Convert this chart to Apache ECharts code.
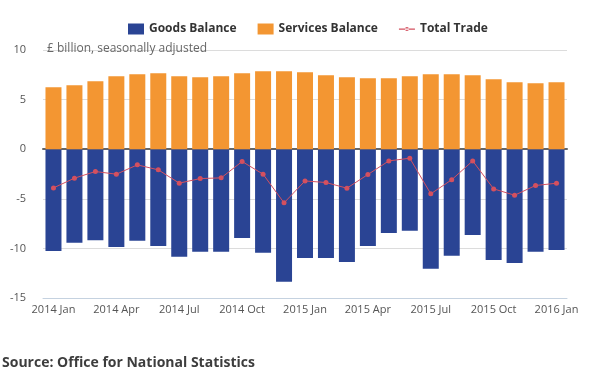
<!DOCTYPE html>
<html><head><meta charset="utf-8">
<script src="https://cdn.jsdelivr.net/npm/echarts@6/dist/echarts.min.js"></script>
<style>html,body{margin:0;padding:0;background:#fff}#c{width:616px;height:385px}</style>
</head><body><div id="c"></div>
<script>
const categories = ['2014 Jan','2014 Feb','2014 Mar','2014 Apr','2014 May','2014 Jun','2014 Jul','2014 Aug','2014 Sep','2014 Oct','2014 Nov','2014 Dec',
  '2015 Jan','2015 Feb','2015 Mar','2015 Apr','2015 May','2015 Jun','2015 Jul','2015 Aug','2015 Sep','2015 Oct','2015 Nov','2015 Dec','2016 Jan'];
const goodsBalance = [-10.25,-9.44,-9.17,-9.85,-9.24,-9.75,-10.85,-10.35,-10.35,-8.94,-10.45,-13.37,
  -10.96,-10.96,-11.36,-9.75,-8.44,-8.23,-12.06,-10.75,-8.64,-11.16,-11.46,-10.35,-10.15];
const servicesBalance = [6.25,6.45,6.85,7.36,7.56,7.66,7.36,7.26,7.36,7.66,7.86,7.86,
  7.76,7.46,7.26,7.16,7.16,7.36,7.56,7.56,7.46,7.06,6.75,6.65,6.75];
const totalTrade = [-3.9,-2.92,-2.25,-2.52,-1.58,-2.08,-3.42,-2.96,-2.89,-1.24,-2.52,-5.41,
  -3.2,-3.36,-3.93,-2.55,-1.18,-0.91,-4.5,-3.08,-1.18,-4.0,-4.64,-3.66,-3.43];
const yTicks = {min: -15, max: 10, interval: 5};

const chart = echarts.init(document.getElementById('c'), null, {renderer: 'canvas'});
const font = '"Open Sans", "Noto Sans", sans-serif';
const lineIcon = 'path://M0,0M16,11M0,5h16v1.2h-16z M8,3.6a2,2 0 1,0 0.01,0z';
chart.setOption({
  animation: false,
  textStyle: {fontFamily: font},
  title: {
    text: '£ billion, seasonally adjusted', left: 42, top: 38,
    textStyle: {fontSize: 12, fontWeight: 'normal', color: '#666', fontFamily: font}
  },
  graphic: [{
    type: 'text', left: 2, top: 356,
    style: {text: 'Source: Office for National Statistics', font: 'bold 14px "Open Sans", sans-serif', fill: '#3d3d3d'}
  }],
  legend: {
    top: 18, left: 123, itemGap: 21, itemWidth: 16, itemHeight: 11,
    textStyle: {fontSize: 12, fontWeight: 'bold', color: '#333', fontFamily: font},
    data: [
      {name: 'Goods Balance', icon: 'rect'},
      {name: 'Services Balance', icon: 'rect'},
      {name: 'Total Trade', icon: lineIcon, itemStyle: {color: '#d4505f'}}
    ]
  },
  grid: {left: 43, right: 49, top: 50, bottom: 87, containLabel: false},
  xAxis: [{
    type: 'category', data: categories, position: 'bottom',
    axisLine: {onZero: false, lineStyle: {color: '#c5d2e0', width: 1}},
    axisTick: {alignWithLabel: true, interval: 2, length: 8, lineStyle: {color: '#c5d2e0'}},
    axisLabel: {interval: 2, color: '#555', fontSize: 11, margin: 6, fontFamily: font}
  }, {
    type: 'category', data: categories, position: 'bottom',
    axisLine: {onZero: true, lineStyle: {color: '#666', width: 2}},
    axisTick: {show: false}, axisLabel: {show: false}, splitLine: {show: false}
  }],
  yAxis: {
    type: 'value', min: yTicks.min, max: yTicks.max, interval: yTicks.interval,
    axisLine: {show: false}, axisTick: {show: false},
    axisLabel: {color: '#555', fontSize: 11, margin: 17, fontFamily: font},
    splitLine: {lineStyle: {color: '#dcdcdc', width: 1}}
  },
  series: [{
    name: 'Goods Balance', type: 'bar', data: goodsBalance, barWidth: 16, barGap: '-100%',
    itemStyle: {color: '#2a4494'}, z: 2
  }, {
    name: 'Services Balance', type: 'bar', data: servicesBalance, barWidth: 16, barGap: '-100%',
    itemStyle: {color: '#f39632'}, z: 2
  }, {
    name: 'Total Trade', type: 'line', data: totalTrade, symbol: 'circle', symbolSize: 5,
    lineStyle: {color: '#d4505f', width: 1}, itemStyle: {color: '#d4505f'}, z: 5
  }]
});
</script></body></html>
